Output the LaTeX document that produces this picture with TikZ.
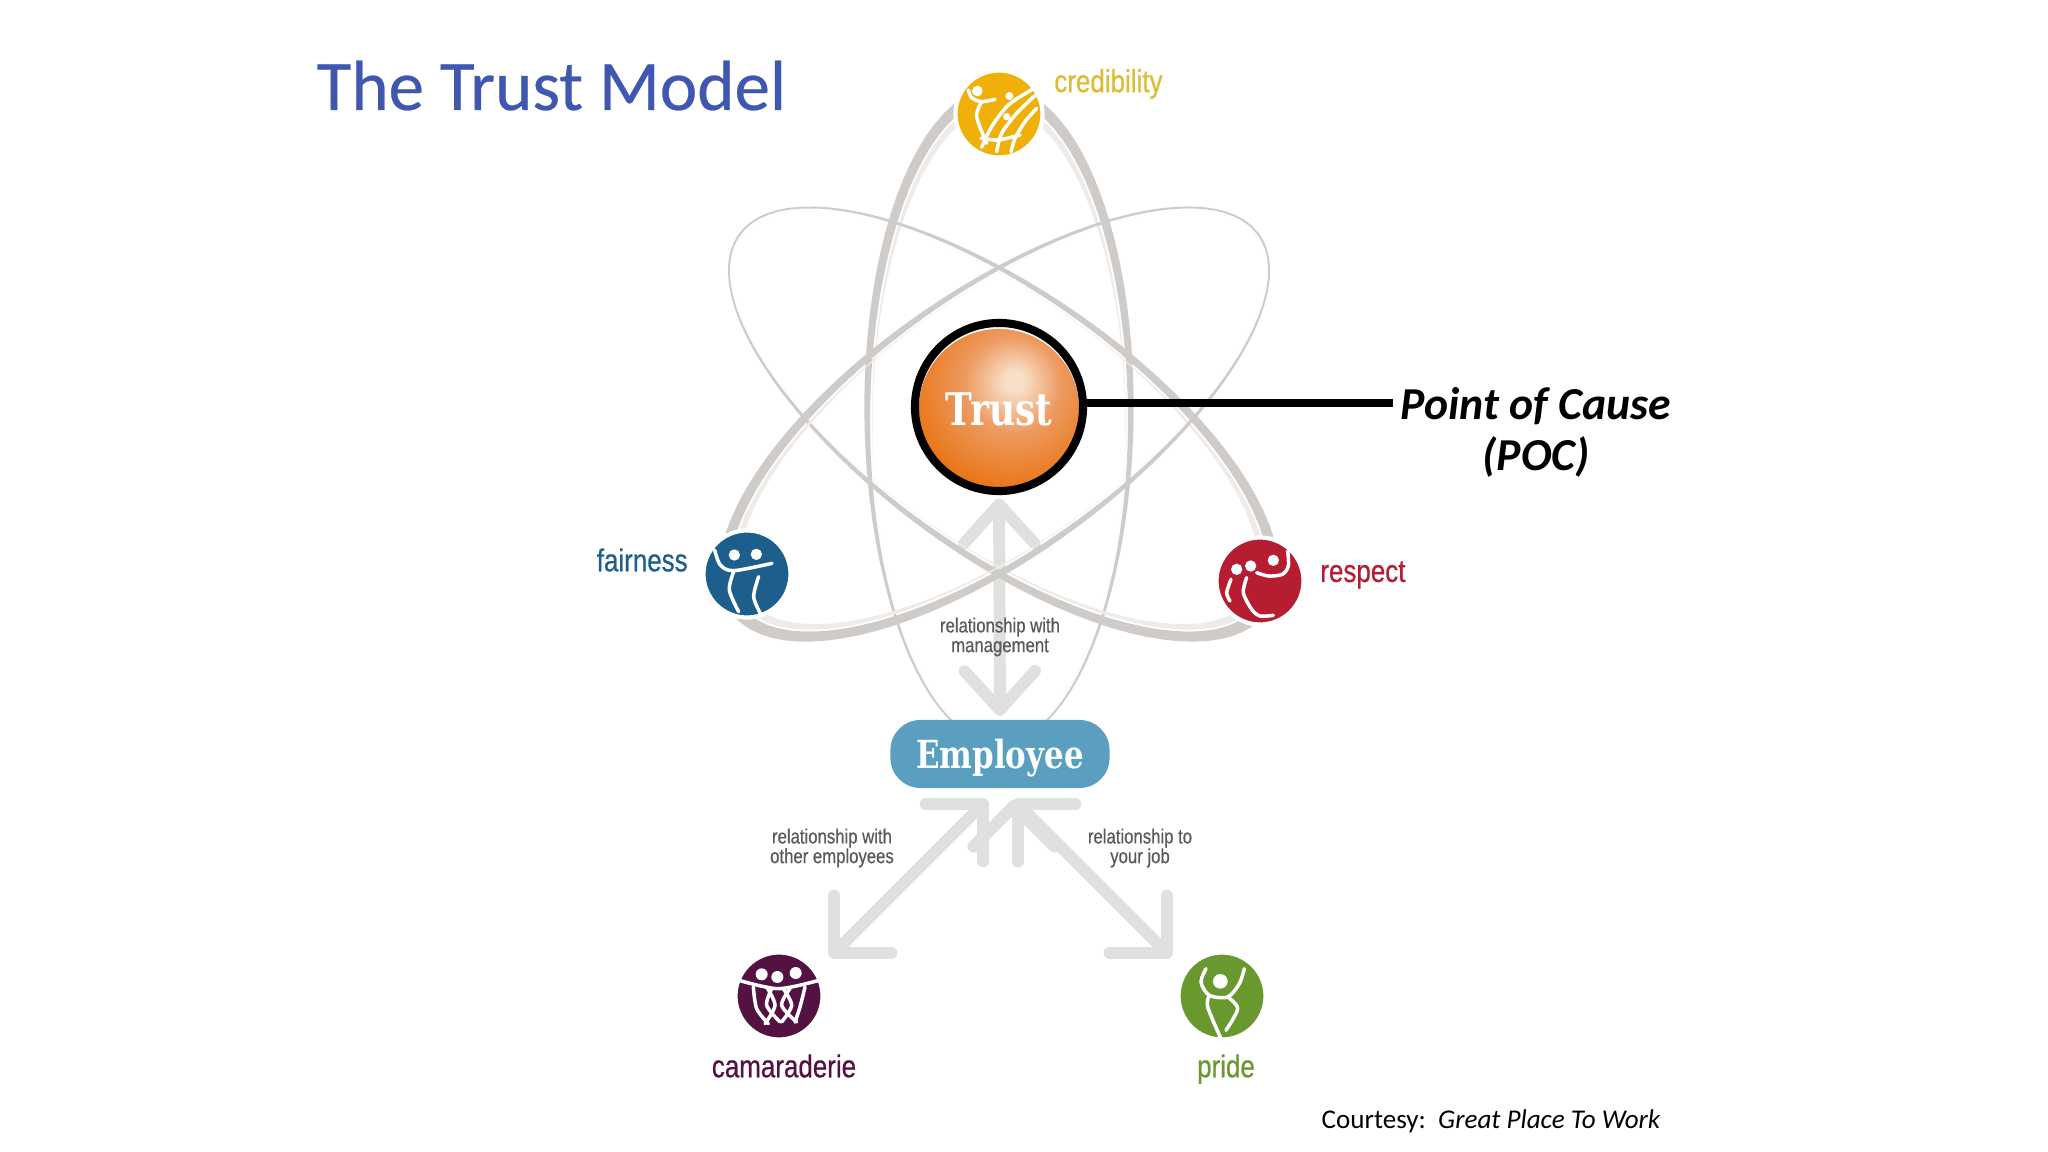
\documentclass[tikz,border=0pt]{standalone}
\usepackage{fontspec}
\setmainfont{Carlito}
\newfontfamily\titlefont[FakeBold=0.35]{Carlito}
\newfontfamily\slabfont[FakeStretch=0.8]{DejaVu Serif}
\newfontfamily\logofont[FakeStretch=0.82,FakeBold=0.6]{Liberation Sans}
\usetikzlibrary{arrows.meta,backgrounds,positioning}

\definecolor{titleblue}{HTML}{3F57AF}
\definecolor{orbitgrey}{HTML}{CFCBC8}
\definecolor{orbitpale}{HTML}{EDECEA}
\definecolor{arrowgrey}{HTML}{E0E1DF}
\definecolor{textgrey}{HTML}{5A5A5A}
\definecolor{crediblecol}{HTML}{F0B00A}
\definecolor{credibletext}{HTML}{DDBB33}
\definecolor{faircol}{HTML}{1C5F8C}
\definecolor{respectcol}{HTML}{B61D30}
\definecolor{camaradecol}{HTML}{541243}
\definecolor{pridecol}{HTML}{68982E}
\definecolor{employeecol}{HTML}{5A9FBF}
\definecolor{trustlight}{HTML}{F8DFC8}
\definecolor{trustmid}{HTML}{ED9A60}
\definecolor{trustdark}{HTML}{E8700C}

\pgfdeclareradialshading{trustball}{\pgfpoint{5bp}{9bp}}{%
  color(0bp)=(trustlight);
  color(3bp)=(trustlight);
  color(15bp)=(trustmid);
  color(34bp)=(trustdark);
  color(100bp)=(trustdark)}

\pgfmathdeclarefunction{orbw}{1}{\pgfmathparse{2+10*((1.01-sin(#1))/2)^1.5}}
\pgfmathdeclarefunction{orbp}{1}{\pgfmathparse{8*((1.01-sin(#1))/2)^4}}

% one orbit: rotation, half width, half length
\newcommand{\orbit}[3]{%
  \begin{scope}[shift={(999,420)},rotate=#1]
    \fill[orbitgrey,even odd rule]
      plot[domain=0:360,samples=90] ({(#2+orbw(\x))*cos(\x)},{(#3+orbw(\x))*sin(\x)}) -- cycle
      plot[domain=0:360,samples=90] ({#2*cos(\x)},{#3*sin(\x)}) -- cycle;
    \fill[orbitpale,even odd rule]
      plot[domain=0:360,samples=90] ({(#2-2)*cos(\x)},{(#3-2)*sin(\x)}) -- cycle
      plot[domain=0:360,samples=90] ({(#2-2-orbp(\x))*cos(\x)},{(#3-2-orbp(\x))*sin(\x)}) -- cycle;
  \end{scope}}

\begin{document}
\begin{tikzpicture}
[x=0.01cm, y=-0.01cm,
% STYLES
% The logo style is used to draw the round badges
logo/.style={circle, draw=white, line width=1.2pt, minimum size=0.87cm, inner sep=0pt},
% The logolabel style is used to name each badge
logolabel/.style={inner sep=0pt, font=\logofont\fontsize{9}{9}\selectfont},
% The relation style is used to describe the arrows
relationtext/.style={inner sep=0pt, align=center, text=textgrey, font=\logofont\fontsize{5.8}{5.6}\selectfont},
relation/.style={draw=arrowgrey, line width=3.4pt, {Straight Barb[length=11pt,width=20pt,round]}-{Straight Barb[length=11pt,width=20pt,round]}},
sliprelation/.style={draw=arrowgrey, line width=3.4pt, {Straight Barb[length=11.5pt,width=23pt,round]}-{Straight Barb[length=11.5pt,width=23pt,round]}},
figline/.style={draw=white, line width=1pt, line cap=round}]

\useasboundingbox (0,0) rectangle (2048,1152);

% Draw title and notes
\node [anchor=base west, inner sep=0pt, text=titleblue, font=\titlefont\fontsize{20.2}{21}\selectfont] (title) at (316,110) {The Trust Model};
\node [anchor=base west, inner sep=0pt, font=\fontsize{7.7}{8}\selectfont] (courtesy) at (1321,1128) {Courtesy:\ \ \textit{Great Place To Work}};

% Draw trust and employee
\node [circle, minimum size=1.6cm, inner sep=0pt, shading=trustball, text=white, font=\slabfont\bfseries\fontsize{12.8}{14}\selectfont] (trust) at (999,409) {Trust};
\node [circle, draw=black, line width=2.3pt, minimum size=1.68cm, inner sep=0pt] (trust-ring) at (999,407) {};
\node [rectangle, rounded corners=0.3cm, fill=employeecol, minimum width=2.19cm, minimum height=0.68cm, text depth=0pt, text=white, font=\slabfont\bfseries\fontsize{11}{11}\selectfont] (employee) at (1000,754) {Employee};

% Draw logos
\node [logo, fill=crediblecol] (credibility) at (999,114) {};
\node [logo, fill=faircol] (fairness) at (747,574) {};
\node [logo, fill=respectcol] (respect) at (1260,581) {};
\node [logo, fill=camaradecol] (camaraderie) at (779,996) {};
\node [logo, fill=pridecol] (pride) at (1222,996) {};

% Draw logo names
\node [logolabel, text=credibletext, right=0.09cm of credibility, yshift=0.3cm] (credibility-label) {credibility};
\node [logolabel, text=faircol, left=0.13cm of fairness, yshift=0.14cm] (fairness-label) {fairness};
\node [logolabel, text=respectcol, right=0.14cm of respect, yshift=0.06cm] (respect-label) {respect};
\node [logolabel, text=camaradecol, below=0.12cm of camaraderie, xshift=0.05cm] (camaraderie-label) {camaraderie};
\node [logolabel, text=pridecol, below=0.12cm of pride, xshift=0.04cm] (pride-label) {pride};

% Draw relations
\node [relationtext] (management-label) at (1000,637) {relationship with\\management};
\node [relationtext] (employees-label) at (832,848) {relationship with\\other employees};
\node [relationtext] (job-label) at (1140,848) {relationship to\\your job};

% POC
\node [align=center, inner sep=0pt, font=\bfseries\itshape\fontsize{13}{14.5}\selectfont] (poc) at (1536,432) {Point of Cause\\(POC)};
\coordinate (poc-end) at (1393,403);
\draw [line width=2.3pt] (trust-ring.east |- poc-end) -- (poc-end);

% arrow ends beside the employee box
\coordinate (employee-left) at (987,800);
\coordinate (employee-right) at (1014,800);
\coordinate (camaraderie-end) at (830,957);
\coordinate (pride-end) at (1171,957);

\begin{scope}[on background layer]
  \path [sliprelation]
    (employee-left) edge (camaraderie-end)
    (employee-right) edge (pride-end);
  \draw [relation, shorten <=1pt, shorten >=1pt] (trust-ring.south) -- (employee.north);
  \orbit{0}{129}{322}
  \orbit{-125.5}{127}{318}
  \orbit{125.5}{127}{318}
\end{scope}

% CREDIBILITY
\begin{scope}[shift={(945,60)}, scale=1/3]
  \fill [white] (97,93) circle (16) (193,108) circle (12) (185,170) circle (11);
  \draw [figline] plot[smooth] coordinates {(70,90) (80,113) (110,125) (150,118)};
  \draw [figline] plot[smooth] coordinates {(110,125) (95,170) (125,250)};
  \draw [figline] plot[smooth] coordinates {(262,88) (190,135) (140,200) (110,262)};
  \draw [figline] plot[smooth] coordinates {(272,105) (215,160) (170,220) (155,275)};
  \draw [figline] plot[smooth] coordinates {(275,145) (240,185) (210,235) (198,275)};
  \draw [figline] plot[smooth] coordinates {(108,235) (160,240) (225,225)};
\end{scope}
% FAIRNESS
\begin{scope}[shift={(692,520)}, scale=1/3]
  \fill [white] (127,105) circle (17) (193,103) circle (17);
  \draw [figline] plot[smooth] coordinates {(68,90) (85,135) (125,152) (240,130)};
  \draw [figline] plot[smooth] coordinates {(125,155) (112,210) (140,275)};
  \draw [figline] plot[smooth] coordinates {(200,170) (185,230) (205,280)};
\end{scope}
% RESPECT
\begin{scope}[shift={(1205,526)}, scale=1/3]
  \fill [white] (95,130) circle (17) (137,120) circle (17) (205,103) circle (17);
  \draw [figline] plot[smooth] coordinates {(248,75) (250,120) (232,145) (190,150) (155,140)};
  \draw [figline] plot[smooth] coordinates {(78,160) (65,200) (75,225)};
  \draw [figline] plot[smooth] coordinates {(125,155) (115,200) (140,250) (165,270) (205,268)};
\end{scope}
% CAMARADERIE
\begin{scope}[shift={(725,942)}, scale=1/3]
  \fill [white] (110,97) circle (18) (157,105) circle (18) (212,93) circle (18);
  \draw [figline] plot[smooth] coordinates {(42,115) (160,140) (282,115)};
  \draw [figline] plot[smooth] coordinates {(85,135) (95,200) (130,245)};
  \draw [figline] plot[smooth] coordinates {(125,135) (150,190) (120,245)};
  \draw [figline] plot[smooth] coordinates {(140,140) (125,190) (165,240)};
  \draw [figline] plot[smooth] coordinates {(175,140) (200,190) (170,240)};
  \draw [figline] plot[smooth] coordinates {(195,140) (170,190) (215,240)};
  \draw [figline] plot[smooth] coordinates {(240,135) (225,195) (210,240)};
\end{scope}
% PRIDE
\begin{scope}[shift={(1166,942)}, scale=1/3]
  \fill [white] (163,118) circle (22);
  \draw [figline] plot[smooth] coordinates {(120,80) (105,120) (130,160) (185,165) (220,125) (235,80)};
  \draw [figline] plot[smooth] coordinates {(130,160) (125,195) (165,290)};
  \draw [figline] plot[smooth] coordinates {(185,165) (215,200) (180,265)};
\end{scope}

\end{tikzpicture}
\end{document}
